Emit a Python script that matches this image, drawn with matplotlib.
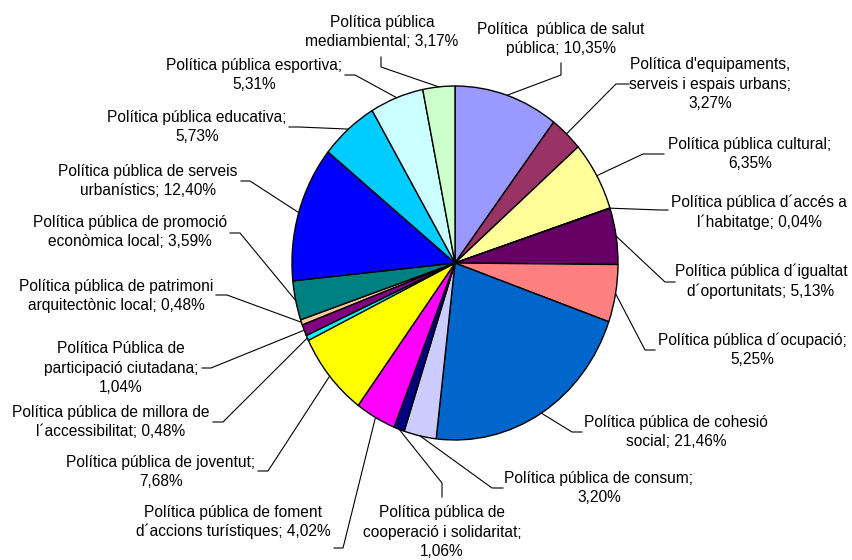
import numpy as np
import matplotlib
matplotlib.use("Agg")
import matplotlib.pyplot as plt

plt.rcParams['font.family'] = ['Liberation Sans', 'DejaVu Sans']

# ---- data ----
categories = [
    "Política  pública de salut\npública",
    "Política d'equipaments,\nserveis i espais urbans",
    "Política pública cultural",
    "Política pública d´accés a\nl´habitatge",
    "Política pública d´igualtat\nd´oportunitats",
    "Política pública d´ocupació",
    "Política pública de cohesió\nsocial",
    "Política pública de consum",
    "Política pública de\ncooperació i solidaritat",
    "Política pública de foment\nd´accions turístiques",
    "Política pública de joventut",
    "Política pública de millora de\nl´accessibilitat",
    "Política Pública de\nparticipació ciutadana",
    "Política pública de patrimoni\narquitectònic local",
    "Política pública de promoció\neconòmica local",
    "Política pública de serveis\nurbanístics",
    "Política pública educativa",
    "Política pública esportiva",
    "Política pública\nmediambiental",
]
values = [10.35, 3.27, 6.35, 0.04, 5.13, 5.25, 21.46, 3.20, 1.06, 4.02,
          7.68, 0.48, 1.04, 0.48, 3.59, 12.40, 5.73, 5.31, 3.17]
separators = [" ", "\n", "\n", " ", " ", "\n", " ", "\n", "\n", " ",
              "\n", " ", "\n", " ", " ", " ", "\n", "\n", " "]
colors = ["#9999FF", "#993366", "#FFFF99", "#CCFFFF", "#660066", "#FF8080",
          "#0066CC", "#CCCCFF", "#000080", "#FF00FF", "#FFFF00", "#00FFFF",
          "#800080", "#FFCC99", "#008080", "#0000FF", "#00CCFF", "#CCFFFF",
          "#CCFFCC"]

# ---- layout (pixel positions of labels: center, anchor, elbow) ----
label_centers = [(561, 39), (710, 84), (750, 154), (759, 212), (761, 281),
                 (752, 350), (676, 432), (599, 488), (442, 532), (233, 522),
                 (161, 472), (111, 422), (121, 368), (116, 296), (130, 232),
                 (148, 181), (197, 127), (254, 75), (382, 32)]
anchors = [(561, 63), (629, 84), (664, 154), (668, 210), (675, 282),
           (655, 350), (582, 432), (503, 488), (442, 497), (334, 548),
           (258, 471), (213, 422), (202, 368), (216, 295), (230, 233),
           (241, 181), (289, 127), (345, 75), (381, 57)]
elbows = [(561, 75), (616, 84), (643, 154), (660, 210), (665, 282),
          (645, 350), (572, 432), (492, 488), (442, 483), (343, 548),
          (268, 471), (223, 422), (211, 368), (227, 295), (240, 233),
          (250, 181), (299, 127), (355, 75), (381, 67)]

W, H = 853, 560
fig = plt.figure(figsize=(W / 100, H / 100), dpi=100)
fig.patch.set_facecolor("white")

# pie axes (stretched ellipse)
cx, cy, rx, ry = 455, 263, 163, 177
axp = fig.add_axes([(cx - rx) / W, (H - (cy + ry)) / H, 2 * rx / W, 2 * ry / H])
wedges, _ = axp.pie(values, colors=colors, startangle=90, counterclock=False,
                    wedgeprops=dict(edgecolor="black", linewidth=1.0, clip_on=False))
axp.set_aspect("auto")
axp.set_xlim(-1, 1)
axp.set_ylim(-1, 1)
axp.axis("off")

# overlay axes in pixel coordinates
axo = fig.add_axes([0, 0, 1, 1], facecolor="none")
axo.set_xlim(0, W)
axo.set_ylim(H, 0)
axo.axis("off")

fig.canvas.draw()
to_over = axo.transData.inverted()

for i, w in enumerate(wedges):
    mid = np.deg2rad((w.theta1 + w.theta2) / 2)
    disp = axp.transData.transform((np.cos(mid), np.sin(mid)))
    px, py = to_over.transform(disp)
    vtxt = f"{values[i]:.2f}".replace(".", ",") + "%"
    label = categories[i] + ";" + separators[i] + vtxt
    lx, ly = label_centers[i]
    axo.text(lx, ly, label, ha="center", va="center", multialignment="center",
             fontsize=11.2, linespacing=1.35, color="black")
    ax_, ay_ = anchors[i]
    ex, ey = elbows[i]
    axo.plot([ax_, ex, px], [ay_, ey, py], color="black", lw=0.8,
             solid_joinstyle="miter")

fig.savefig("out.png", dpi=100, facecolor="white")
